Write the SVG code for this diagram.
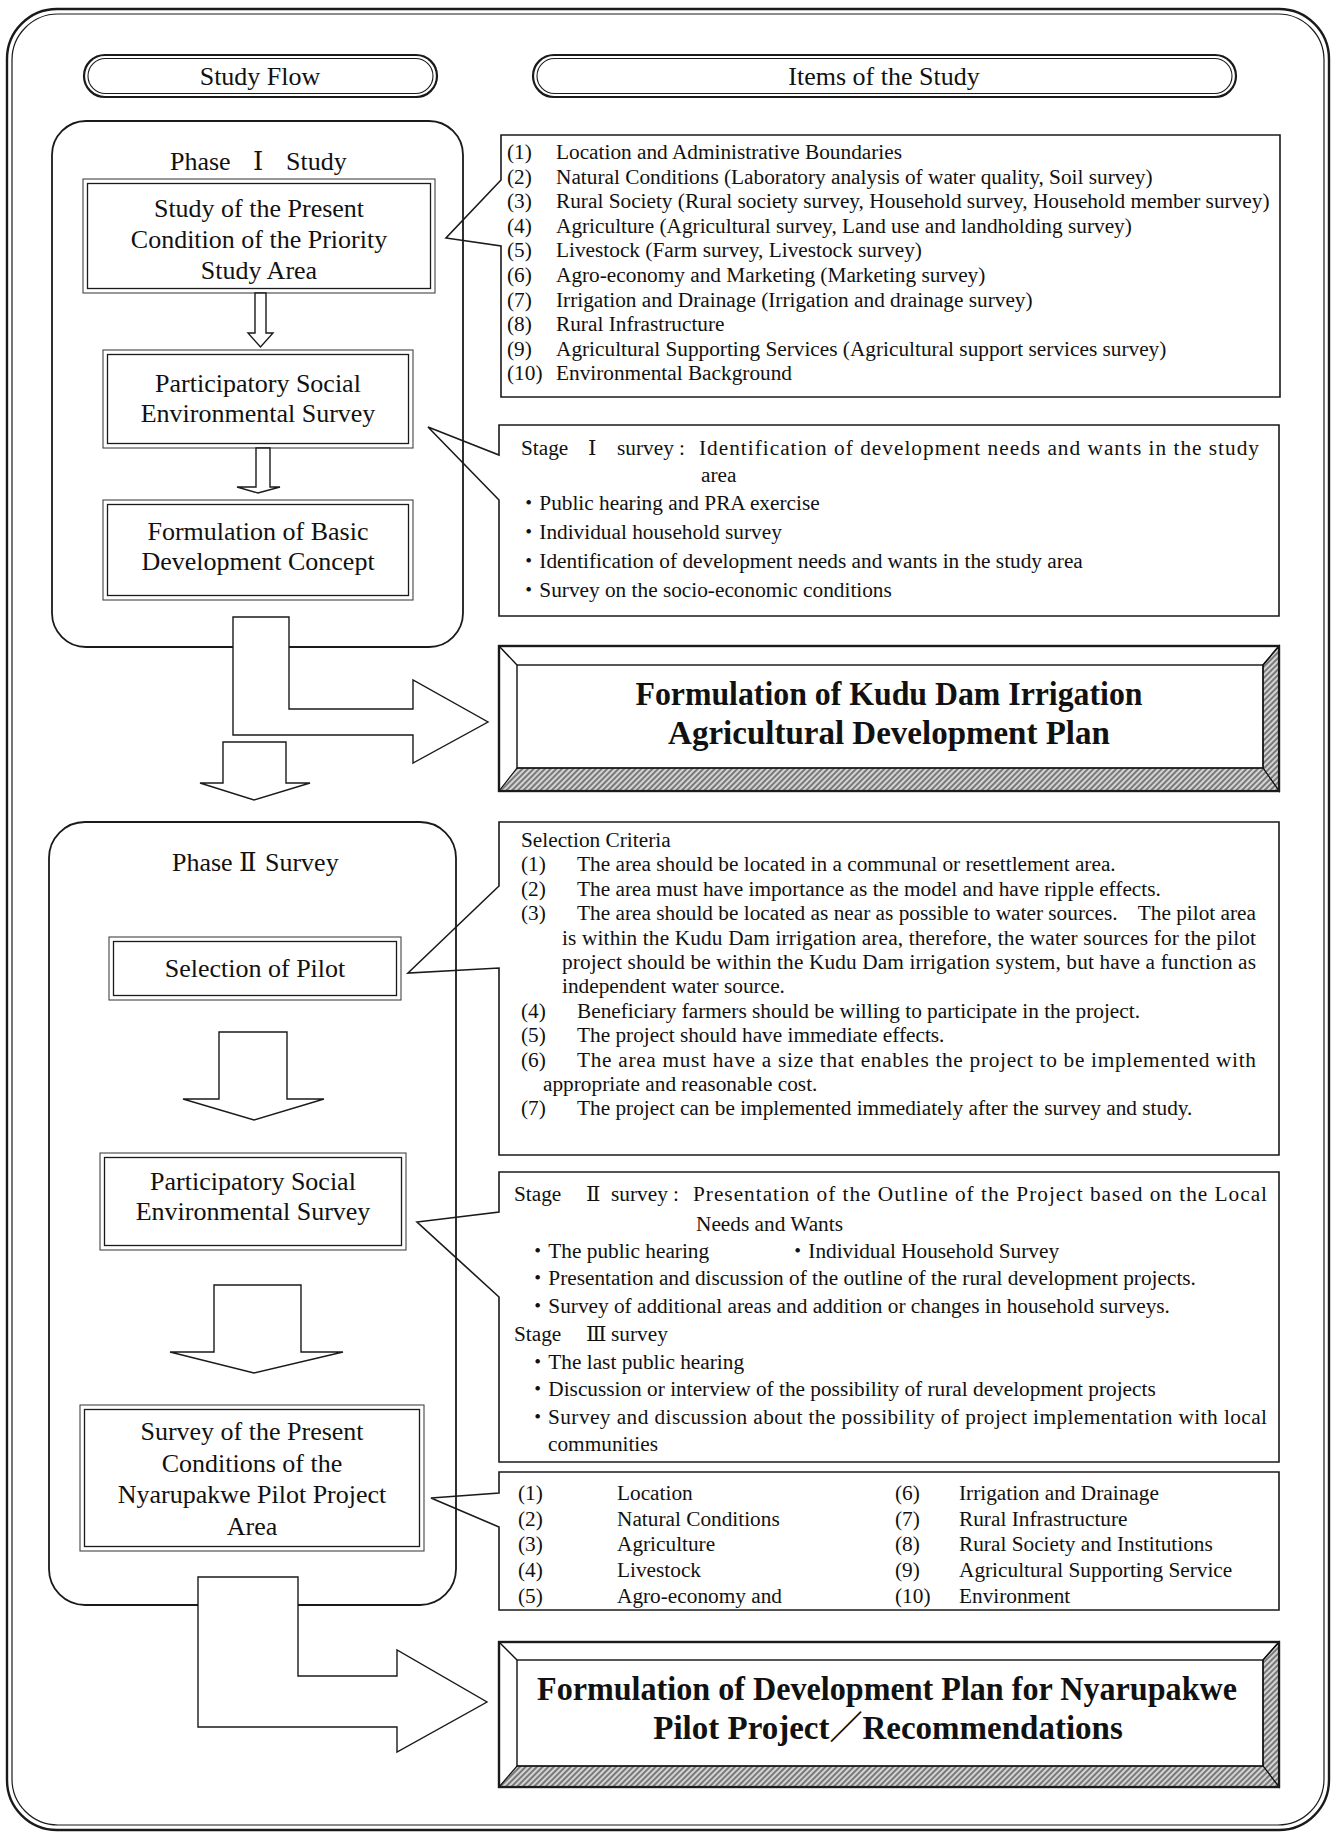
<svg xmlns="http://www.w3.org/2000/svg" width="1334" height="1834" viewBox="0 0 1334 1834">
  <style>
    .t { font-family: "Liberation Serif", "DejaVu Serif", "Noto Sans CJK JP", serif; fill: #111; }
    .body { font-size: 21.3px; }
    .box { font-size: 26px; text-anchor: middle; }
    .head { font-size: 26px; }
    .title { font-size: 33px; font-weight: bold; text-anchor: middle; }
    .end { text-anchor: end; }
    .frame { fill: none; stroke: #1a1a1a; }
    .phase { fill: none; stroke: #1a1a1a; stroke-width: 1.8; }
    .fbox-o { fill: #fff; stroke: #444; stroke-width: 1.1; }
    .fbox-i { fill: none; stroke: #1a1a1a; stroke-width: 1.3; }
    .callout { fill: #fff; stroke: #1a1a1a; stroke-width: 1.6; stroke-linejoin: miter; }
    .arrow { fill: #fff; stroke: #1a1a1a; stroke-width: 1.4; stroke-linejoin: miter; }
    .bevel-o { fill: #fff; stroke: #111; stroke-width: 2.2; }
    .bevel-s { fill: url(#hatch); stroke: #111; stroke-width: 1.2; }
    .bevel-l { fill: none; stroke: #111; stroke-width: 1.4; }
  </style>
  <defs>
    <pattern id="hatch" width="4" height="4" patternUnits="userSpaceOnUse" patternTransform="rotate(45)">
      <rect width="4" height="4" fill="#d4d4d4"/>
      <line x1="1" y1="0" x2="1" y2="4" stroke="#5a5a5a" stroke-width="1.5"/>
    </pattern>
  </defs>

  <rect width="1334" height="1834" fill="#fff"/>

  <!-- outer double frame -->
  <g id="frame">
    <rect class="frame" x="7" y="9" width="1322" height="1821" rx="50" stroke-width="2.4"/>
    <rect class="frame" x="12" y="14" width="1312" height="1811" rx="46" stroke-width="1.2"/>
  </g>

  <!-- column headings -->
  <g id="head-flow">
    <rect class="frame" x="84" y="55" width="353" height="42" rx="21" ry="21" stroke-width="2.2"/>
    <rect class="frame" x="88" y="58.5" width="345" height="35" rx="17.5" ry="17.5" stroke-width="1.1"/>
    <text class="t head" x="260" y="85" text-anchor="middle">Study Flow</text>
  </g>
  <g id="head-items">
    <rect class="frame" x="533" y="55" width="703" height="42" rx="21" ry="21" stroke-width="2.2"/>
    <rect class="frame" x="537" y="58.5" width="695" height="35" rx="17.5" ry="17.5" stroke-width="1.1"/>
    <text class="t head" x="884" y="85" text-anchor="middle">Items of the Study</text>
  </g>

  <!-- right column: callout boxes -->
  <g id="items-phase1">
    <path class="callout" d="M501,135 H1280 V397 H501 V246 L446,238 L501,180 Z"/>
    <g class="t body">
      <text x="507" y="159">(1)</text><text x="556" y="159">Location and Administrative Boundaries</text>
      <text x="507" y="183.6">(2)</text><text x="556" y="183.6">Natural Conditions (Laboratory analysis of water quality, Soil survey)</text>
      <text x="507" y="208.2">(3)</text><text x="556" y="208.2">Rural Society (Rural society survey, Household survey, Household member survey)</text>
      <text x="507" y="232.8">(4)</text><text x="556" y="232.8">Agriculture (Agricultural survey, Land use and landholding survey)</text>
      <text x="507" y="257.4">(5)</text><text x="556" y="257.4">Livestock (Farm survey, Livestock survey)</text>
      <text x="507" y="282">(6)</text><text x="556" y="282">Agro-economy and Marketing (Marketing survey)</text>
      <text x="507" y="306.6">(7)</text><text x="556" y="306.6">Irrigation and Drainage (Irrigation and drainage survey)</text>
      <text x="507" y="331.2">(8)</text><text x="556" y="331.2">Rural Infrastructure</text>
      <text x="507" y="355.8">(9)</text><text x="556" y="355.8">Agricultural Supporting Services (Agricultural support services survey)</text>
      <text x="507" y="380.4">(10)</text><text x="556" y="380.4">Environmental Background</text>
    </g>
  </g>

  <g id="stage1">
    <path class="callout" d="M499,425 H1279 V616 H499 V500 L428,427 L499,455 Z"/>
    <g class="t body">
      <text y="455"><tspan x="521">Stage</tspan><tspan x="588">Ⅰ</tspan><tspan x="617">survey :</tspan></text>
      <text x="699" y="455" textLength="560" lengthAdjust="spacing">Identification of development needs and wants in the study</text>
      <text x="701" y="482">area</text>
      <text x="518" y="510">・Public hearing and PRA exercise</text>
      <text x="518" y="539">・Individual household survey</text>
      <text x="518" y="568">・Identification of development needs and wants in the study area</text>
      <text x="518" y="597">・Survey on the socio-economic conditions</text>
    </g>
  </g>

  <g id="plan-kudu">
    <rect class="bevel-o" x="499" y="646" width="780" height="145"/>
    <polygon class="bevel-s" points="1279,646 1263,665 1263,768 1279,791"/>
    <polygon class="bevel-s" points="499,791 517,768 1263,768 1279,791"/>
    <line class="bevel-l" x1="499" y1="646" x2="517" y2="665"/>
    <line class="bevel-l" x1="1279" y1="646" x2="1263" y2="665"/>
    <rect class="bevel-l" x="517" y="665" width="746" height="103"/>
    <rect class="frame" x="499" y="646" width="780" height="145" stroke-width="2.2"/>
    <text class="t title" x="889" y="705" textLength="507" lengthAdjust="spacingAndGlyphs">Formulation of Kudu Dam Irrigation</text>
    <text class="t title" x="889" y="744">Agricultural Development Plan</text>
  </g>

  <g id="criteria">
    <path class="callout" d="M499,822 H1279 V1155 H499 V968 L408,973 L499,886 Z"/>
    <g class="t body">
      <text x="521" y="847">Selection Criteria</text>
      <text x="521" y="871.4">(1)</text><text x="577" y="871.4">The area should be located in a communal or resettlement area.</text>
      <text x="521" y="895.8">(2)</text><text x="577" y="895.8">The area must have importance as the model and have ripple effects.</text>
      <text x="521" y="920.2">(3)</text><text x="577" y="920.2">The area should be located as near as possible to water sources.</text>
      <text class="end" x="1256" y="920.2">The pilot area</text>
      <text x="562" y="944.6" textLength="694" lengthAdjust="spacing">is within the Kudu Dam irrigation area, therefore, the water sources for the pilot</text>
      <text x="562" y="969" textLength="694" lengthAdjust="spacing">project should be within the Kudu Dam irrigation system, but have a function as</text>
      <text x="562" y="993.4">independent water source.</text>
      <text x="521" y="1017.8">(4)</text><text x="577" y="1017.8">Beneficiary farmers should be willing to participate in the project.</text>
      <text x="521" y="1042.2">(5)</text><text x="577" y="1042.2">The project should have immediate effects.</text>
      <text x="521" y="1066.6">(6)</text><text x="577" y="1066.6" textLength="679" lengthAdjust="spacing">The area must have a size that enables the project to be implemented with</text>
      <text x="543" y="1091">appropriate and reasonable cost.</text>
      <text x="521" y="1115.4">(7)</text><text x="577" y="1115.4">The project can be implemented immediately after the survey and study.</text>
    </g>
  </g>

  <g id="stage2-3">
    <path class="callout" d="M499,1172 H1279 V1462 H499 V1297 L417,1222 L499,1212 Z"/>
    <g class="t body">
      <text y="1201"><tspan x="514">Stage</tspan><tspan x="586">Ⅱ</tspan><tspan x="611">survey :</tspan></text>
      <text x="693" y="1201" textLength="574" lengthAdjust="spacing">Presentation of the Outline of the Project based on the Local</text>
      <text x="696" y="1231">Needs and Wants</text>
      <text x="527" y="1258">・The public hearing</text>
      <text x="787" y="1258">・Individual Household Survey</text>
      <text x="527" y="1285">・Presentation and discussion of the outline of the rural development projects.</text>
      <text x="527" y="1313">・Survey of additional areas and addition or changes in household surveys.</text>
      <text y="1341"><tspan x="514">Stage</tspan><tspan x="586">Ⅲ</tspan><tspan x="611">survey</tspan></text>
      <text x="527" y="1369">・The last public hearing</text>
      <text x="527" y="1396">・Discussion or interview of the possibility of rural development projects</text>
      <text x="527" y="1424">・</text>
      <text x="548" y="1424" textLength="719" lengthAdjust="spacing">Survey and discussion about the possibility of project implementation with local</text>
      <text x="548" y="1451">communities</text>
    </g>
  </g>

  <g id="items-pilot">
    <path class="callout" d="M499,1472 H1279 V1610 H499 V1527 L431,1498 L499,1493 Z"/>
    <g class="t body">
      <text x="518" y="1500">(1)</text><text x="617" y="1500">Location</text>
      <text x="518" y="1526">(2)</text><text x="617" y="1526">Natural Conditions</text>
      <text x="518" y="1551">(3)</text><text x="617" y="1551">Agriculture</text>
      <text x="518" y="1577">(4)</text><text x="617" y="1577">Livestock</text>
      <text x="518" y="1603">(5)</text><text x="617" y="1603">Agro-economy and</text>
      <text x="895" y="1500">(6)</text><text x="959" y="1500">Irrigation and Drainage</text>
      <text x="895" y="1526">(7)</text><text x="959" y="1526">Rural Infrastructure</text>
      <text x="895" y="1551">(8)</text><text x="959" y="1551">Rural Society and Institutions</text>
      <text x="895" y="1577">(9)</text><text x="959" y="1577">Agricultural Supporting Service</text>
      <text x="895" y="1603">(10)</text><text x="959" y="1603">Environment</text>
    </g>
  </g>

  <g id="plan-nyarupakwe">
    <rect class="bevel-o" x="499" y="1642" width="780" height="145"/>
    <polygon class="bevel-s" points="1279,1642 1263,1660 1263,1766 1279,1787"/>
    <polygon class="bevel-s" points="499,1787 517,1766 1263,1766 1279,1787"/>
    <line class="bevel-l" x1="499" y1="1642" x2="517" y2="1660"/>
    <line class="bevel-l" x1="1279" y1="1642" x2="1263" y2="1660"/>
    <rect class="bevel-l" x="517" y="1660" width="746" height="106"/>
    <rect class="frame" x="499" y="1642" width="780" height="145" stroke-width="2.2"/>
    <text class="t title" x="887" y="1700" textLength="700" lengthAdjust="spacingAndGlyphs">Formulation of Development Plan for Nyarupakwe</text>
    <text class="t title" x="888" y="1739">Pilot Project／Recommendations</text>
  </g>

  <!-- left column: phase containers -->
  <g id="phase1">
    <rect class="phase" x="52" y="121" width="411" height="526" rx="34"/>
    <text class="t head" y="170"><tspan x="170">Phase</tspan><tspan x="253">Ⅰ</tspan><tspan x="286">Study</tspan></text>
  </g>
  <g id="phase2">
    <rect class="phase" x="49" y="822" width="407" height="783" rx="36"/>
    <text class="t head" y="871"><tspan x="172">Phase</tspan><tspan x="239">Ⅱ</tspan><tspan x="265">Survey</tspan></text>
  </g>

  <!-- flow steps -->
  <g id="step-present-condition">
    <rect class="fbox-o" x="83" y="179" width="352" height="114"/>
    <rect class="fbox-i" x="87.5" y="183.5" width="343" height="105"/>
    <text class="t box" x="259" y="217">Study of the Present</text>
    <text class="t box" x="259" y="248">Condition of the Priority</text>
    <text class="t box" x="259" y="279">Study Area</text>
  </g>
  <g id="step-social-survey-1">
    <rect class="fbox-o" x="103" y="350" width="310" height="98"/>
    <rect class="fbox-i" x="107.5" y="354.5" width="301" height="89"/>
    <text class="t box" x="258" y="392">Participatory Social</text>
    <text class="t box" x="258" y="422">Environmental Survey</text>
  </g>
  <g id="step-basic-concept">
    <rect class="fbox-o" x="103" y="500" width="310" height="100"/>
    <rect class="fbox-i" x="107.5" y="504.5" width="301" height="91"/>
    <text class="t box" x="258" y="540">Formulation of Basic</text>
    <text class="t box" x="258" y="570">Development Concept</text>
  </g>
  <g id="step-pilot-selection">
    <rect class="fbox-o" x="109" y="937" width="292" height="63"/>
    <rect class="fbox-i" x="113.5" y="941.5" width="283" height="54"/>
    <text class="t box" x="255" y="977">Selection of Pilot</text>
  </g>
  <g id="step-social-survey-2">
    <rect class="fbox-o" x="100" y="1153" width="306" height="97"/>
    <rect class="fbox-i" x="104.5" y="1157.5" width="297" height="88"/>
    <text class="t box" x="253" y="1190">Participatory Social</text>
    <text class="t box" x="253" y="1220">Environmental Survey</text>
  </g>
  <g id="step-pilot-survey">
    <rect class="fbox-o" x="80" y="1405" width="344" height="146"/>
    <rect class="fbox-i" x="84.5" y="1409.5" width="335" height="137"/>
    <text class="t box" x="252" y="1440">Survey of the Present</text>
    <text class="t box" x="252" y="1472">Conditions of the</text>
    <text class="t box" x="252" y="1503">Nyarupakwe Pilot Project</text>
    <text class="t box" x="252" y="1535">Area</text>
  </g>

  <!-- hollow block arrows between steps -->
  <g id="connectors">
    <path class="arrow" d="M255,293 V333 H248 L260.5,347 L273,333 H266 V293 Z"/>
    <path class="arrow" d="M256,448 V487 H237 L258,493 L280,487 H270 V448 Z"/>
    <path class="arrow" d="M233,617 H289 V709 H413 V680 L488,722 L413,763 V735 H233 Z"/>
    <path class="arrow" d="M223,742 H286 V783 H310 L254,800 L200,783 H223 Z"/>
    <path class="arrow" d="M219,1032 H287 V1099 H324 L254,1120 L183,1099 H219 Z"/>
    <path class="arrow" d="M214,1285 H301 V1352 H343 L254,1373 L170,1352 H214 Z"/>
    <path class="arrow" d="M198,1577 H298 V1676 H397 V1650 L487,1702 L397,1752 V1727 H198 Z"/>
  </g>
</svg>
